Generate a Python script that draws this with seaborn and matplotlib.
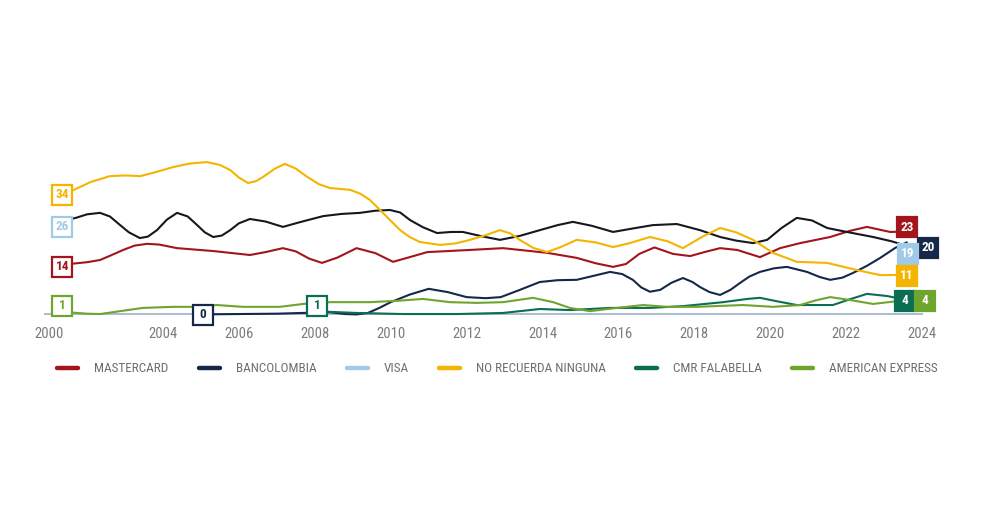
import numpy as np
import pandas as pd
import matplotlib
matplotlib.use("Agg")
import matplotlib.pyplot as plt
import seaborn as sns
from matplotlib import font_manager, transforms
from matplotlib.lines import Line2D

# ---------------- data ----------------
series_names = ["MASTERCARD", "BANCOLOMBIA", "VISA", "NO RECUERDA NINGUNA",
                "CMR FALABELLA", "AMERICAN EXPRESS"]

mastercard_x = [2001.35, 2001.63, 2002.0, 2002.34, 2002.65, 2002.95, 2003.25, 2003.58, 2003.9,
                2004.37, 2005.32, 2006.29, 2006.7, 2007.16, 2007.5, 2007.85, 2008.19, 2008.6,
                2009.1, 2009.6, 2010.06, 2010.5, 2010.96, 2012.09, 2012.96, 2014.12, 2014.9,
                2015.4, 2015.86, 2016.2, 2016.55, 2016.95, 2017.44, 2017.89, 2018.3, 2018.68,
                2019.13, 2019.73, 2020.26, 2020.79, 2021.58, 2022.1, 2022.55, 2023.16, 2023.6]
mastercard_y = [14, 14.1, 14.5, 15.1, 16.5, 17.9, 19.1, 19.6, 19.4,
                18.4, 17.6, 16.5, 17.3, 18.4, 17.5, 15.5, 14.3, 15.8,
                18.4, 17.0, 14.6, 15.9, 17.3, 17.9, 18.4, 17.1, 15.7,
                14.2, 13.2, 14.0, 16.8, 18.6, 16.8, 16.2, 17.4, 18.4,
                17.9, 15.9, 18.4, 19.8, 21.5, 23.2, 24.3, 22.9, 23]

bancolombia_x = [2005.05, 2006.0, 2007.0, 2008.0, 2008.4, 2008.8, 2009.1, 2009.4, 2009.7,
                 2010.0, 2010.5, 2011.0, 2011.5, 2012.0, 2012.5, 2012.9, 2013.4, 2013.93,
                 2014.4, 2014.9, 2015.3, 2015.78, 2016.1, 2016.38, 2016.6, 2016.83, 2017.1,
                 2017.4, 2017.7, 2017.95, 2018.15, 2018.4, 2018.68, 2018.95, 2019.2, 2019.45,
                 2019.73, 2020.1, 2020.44, 2020.97, 2021.3, 2021.58, 2021.9, 2022.18, 2022.55,
                 2022.9, 2023.3, 2023.6]
bancolombia_y = [0, 0.1, 0.2, 0.5, 0.6, 0.1, 0, 0.4, 1.8,
                 3.4, 5.5, 7.1, 6.2, 4.8, 4.5, 4.8, 6.8, 9.0,
                 9.5, 9.6, 10.6, 11.8, 11.2, 9.6, 7.5, 6.3, 6.8,
                 8.8, 10.1, 9.0, 7.6, 6.2, 5.4, 6.8, 8.7, 10.5,
                 11.8, 12.8, 13.2, 11.8, 10.4, 9.6, 10.2, 11.5, 13.5,
                 15.7, 18.5, 20]

visa_x = [2001.35, 2001.7, 2002.0, 2002.34, 2002.6, 2002.87, 2003.1, 2003.39, 2003.6, 2003.84,
          2004.1, 2004.37, 2004.65, 2004.9, 2005.1, 2005.32, 2005.55, 2005.77, 2006.0, 2006.29,
          2006.7, 2007.16, 2007.6, 2008.22, 2008.7, 2009.19, 2009.6, 2009.98, 2010.25, 2010.51,
          2010.85, 2011.22, 2011.6, 2011.9, 2012.4, 2012.88, 2013.4, 2013.93, 2014.4, 2014.8,
          2015.3, 2015.86, 2016.4, 2016.91, 2017.54, 2018.15, 2018.68, 2019.1, 2019.55, 2019.92,
          2020.3, 2020.7, 2021.1, 2021.5, 2022.02, 2022.71, 2023.2, 2023.6]
visa_y = [26, 26.8, 27.8, 28.2, 27.2, 24.8, 22.8, 21.2, 21.6, 23.4,
          26.3, 28.2, 27.2, 24.8, 22.8, 21.5, 21.9, 23.4, 25.3, 26.5,
          25.8, 24.3, 25.6, 27.3, 27.9, 28.2, 28.8, 29.0, 28.3, 26.2,
          24.2, 22.6, 22.9, 22.9, 21.7, 20.7, 21.8, 23.4, 24.8, 25.7,
          24.6, 22.9, 23.9, 24.8, 25.1, 23.4, 21.5, 20.5, 19.8, 20.7,
          24.0, 26.8, 26.1, 24.0, 22.9, 21.5, 20.3, 19]

ninguna_x = [2001.35, 2001.63, 2002.1, 2002.6, 2003.0, 2003.4, 2003.8, 2004.26, 2004.7, 2005.16,
             2005.5, 2005.77, 2006.0, 2006.24, 2006.45, 2006.64, 2006.95, 2007.21, 2007.5, 2007.8,
             2008.1, 2008.4, 2008.93, 2009.2, 2009.45, 2009.72, 2010.0, 2010.25, 2010.5, 2010.77,
             2011.3, 2011.7, 2012.09, 2012.5, 2012.88, 2013.15, 2013.4, 2013.75, 2014.12, 2014.5,
             2014.9, 2015.4, 2015.86, 2016.3, 2016.83, 2017.3, 2017.7, 2018.2, 2018.68, 2019.1,
             2019.55, 2020.07, 2020.7, 2021.5, 2022.29, 2022.9, 2023.6]
ninguna_y = [34, 34.5, 36.8, 38.4, 38.6, 38.4, 39.5, 40.9, 41.9, 42.3,
             41.5, 40.1, 38.0, 36.5, 37.0, 38.2, 40.5, 41.8, 40.5, 38.2,
             36.2, 35.1, 34.6, 33.5, 31.8, 29.0, 26.0, 23.4, 21.5, 20.1,
             19.3, 19.7, 20.7, 22.0, 23.4, 22.5, 20.7, 18.5, 17.3, 18.8,
             20.7, 20.0, 18.7, 19.8, 21.5, 20.3, 18.4, 21.5, 24.0, 22.8,
             20.7, 17.1, 14.6, 14.3, 12.3, 10.9, 11]

cmr_x = [2008.06, 2008.4, 2009.11, 2010.32, 2011.75, 2012.96, 2013.93, 2014.72, 2015.78,
         2016.83, 2017.7, 2018.76, 2019.4, 2019.73, 2020.2, 2020.7, 2021.65, 2022.1, 2022.55,
         2023.08, 2023.6]
cmr_y = [1, 0.7, 0.4, 0.1, 0.1, 0.4, 1.5, 1.2, 1.8,
         1.8, 2.3, 3.4, 4.3, 4.6, 3.6, 2.6, 2.6, 4.2, 5.7,
         5.1, 4]

amex_x = [2001.35, 2001.6, 2002.0, 2002.34, 2002.87, 2003.47, 2004.26, 2004.8, 2005.42, 2006.1,
          2007.08, 2007.69, 2008.4, 2009.45, 2010.2, 2010.85, 2011.56, 2012.27, 2012.96, 2013.75,
          2014.28, 2014.72, 2015.25, 2015.96, 2016.65, 2017.28, 2018.07, 2019.28, 2020.07, 2020.79,
          2021.2, 2021.58, 2022.1, 2022.71, 2023.6]
amex_y = [1, 0.5, 0.2, 0.1, 0.9, 1.8, 2.1, 2.1, 2.6, 2.1,
          2.1, 2.9, 3.4, 3.4, 3.8, 4.3, 3.4, 3.2, 3.4, 4.6,
          3.4, 1.8, 0.9, 1.8, 2.6, 2.1, 2.1, 2.6, 2.1, 2.6,
          3.9, 4.8, 4.0, 2.9, 4]

tick_years = list(range(2001, 2025))
tick_labels = ["2000" if y == 2001 else (str(y) if (y % 2 == 0 and y >= 2004) else "")
               for y in tick_years]

# ---------------- styles ----------------
legend_colors = {"MASTERCARD": "#a3141d", "BANCOLOMBIA": "#15284a", "VISA": "#9fcbe8",
                 "NO RECUERDA NINGUNA": "#f4b400", "CMR FALABELLA": "#0b6e52",
                 "AMERICAN EXPRESS": "#6fa52e"}
line_colors = dict(legend_colors)
line_colors["VISA"] = "#16181f"   # drawn near-black in the reference

xs = [mastercard_x, bancolombia_x, visa_x, ninguna_x, cmr_x, amex_x]
ys = [mastercard_y, bancolombia_y, visa_y, ninguna_y, cmr_y, amex_y]
df = pd.concat([pd.DataFrame({"year": x, "value": y, "serie": n})
                for n, x, y in zip(series_names, xs, ys)], ignore_index=True)

sns.set_theme(style="white")
avail = {f.name for f in font_manager.fontManager.ttflist}
font_main = "DejaVu Sans"
for cand in ["Liberation Sans Narrow", "Roboto Condensed", "Open Sans Condensed",
             "Noto Sans Condensed", "Roboto", "Lato"]:
    if cand in avail:
        font_main = cand
        break
plt.rcParams["font.family"] = [font_main, "DejaVu Sans"]

fig = plt.figure(figsize=(10, 5.3), dpi=100)
ax = fig.add_axes([0.045, 0.4068, 0.877, 0.3057])

sns.lineplot(data=df, x="year", y="value", hue="serie", hue_order=series_names,
             palette=line_colors, estimator=None, sort=True, linewidth=1.5,
             legend=False, ax=ax, zorder=3)
for ln in ax.lines:
    ln.set_clip_on(False)
    ln.set_solid_joinstyle("round")

ax.set_xlim(2000.89, 2024.0)
ax.set_ylim(0, 45)
for s in ["left", "top", "right"]:
    ax.spines[s].set_visible(False)
ax.spines["bottom"].set_color("#a9bccd")
ax.spines["bottom"].set_linewidth(1.4)
ax.spines["bottom"].set_zorder(1)
ax.set_yticks([])
ax.set_xticks(tick_years)
ax.set_xticklabels(tick_labels)
ax.tick_params(axis="x", direction="out", length=6, width=1.2, color="#a9bccd",
               labelsize=10.5, labelcolor="#7b7b7b", pad=3)
xt = ax.get_xaxis().get_major_ticks()
xt[0].tick1line.set_visible(False)
xt[-1].tick1line.set_visible(False)
ax.set_xlabel("")
ax.set_ylabel("")

# ---------------- value boxes ----------------
def box(x, y, text, color, filled, dx=0, dy=0):
    tr = transforms.offset_copy(ax.transData, fig=fig, x=dx, y=dy, units="dots")
    ax.plot([x], [y], marker="s", ms=14.5, mfc=color if filled else "white",
            mec=color, mew=1.6, transform=tr, clip_on=False, zorder=6, ls="none")
    ax.text(x, y, text, transform=tr, ha="center", va="center", fontsize=9.5,
            fontweight="bold", color="white" if filled else color, zorder=7,
            clip_on=False)

def fmt(v):
    return str(int(round(v)))

start_offsets = {"MASTERCARD": (0, -3), "BANCOLOMBIA": (0, -0.5), "VISA": (0, -6),
                 "NO RECUERDA NINGUNA": (0, -3), "CMR FALABELLA": (0, 5),
                 "AMERICAN EXPRESS": (0, 5)}
end_offsets = {"MASTERCARD": (0, 4.5), "BANCOLOMBIA": (21, -5.5), "VISA": (1, -8),
               "NO RECUERDA NINGUNA": (0, -1), "CMR FALABELLA": (-2, -1),
               "AMERICAN EXPRESS": (18, -1)}
for n, x, y in zip(series_names, xs, ys):
    dx, dy = start_offsets[n]
    box(x[0], y[0], fmt(y[0]), legend_colors[n], False, dx, dy)
    dx, dy = end_offsets[n]
    box(x[-1], y[-1], fmt(y[-1]), legend_colors[n], True, dx, dy)

# ---------------- legend ----------------
handles = [Line2D([0], [0], color=legend_colors[n], lw=3.2, solid_capstyle="round")
           for n in series_names]
fig.legend(handles, series_names, loc="center left", bbox_to_anchor=(0.057, 0.304),
           ncol=6, frameon=False, fontsize=9.5, borderpad=0, borderaxespad=0,
           handlelength=1.6, handletextpad=1.2, columnspacing=2.3,
           labelcolor="#6e6e6e")

fig.savefig("out.png", dpi=100, facecolor="white")
